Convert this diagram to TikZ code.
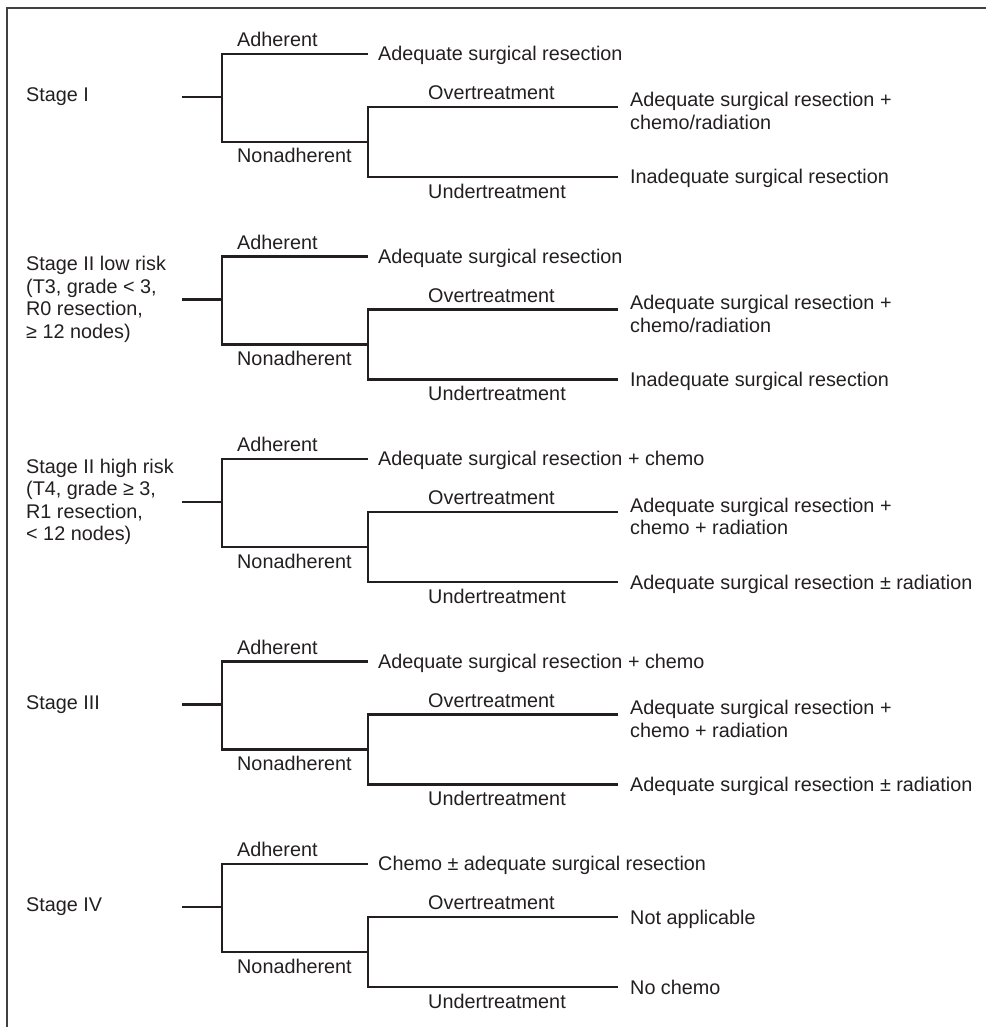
\documentclass[tikz,border=0pt]{standalone}
\usepackage{fontspec}
\setmainfont{Liberation Sans}
\usepackage{tikz}
\definecolor{ink}{HTML}{231F20}

\begin{document}
\begin{tikzpicture}[x=1pt,y=-1pt,
    every node/.style={inner sep=0pt,text=ink,font=\fontsize{19.8}{22.5}\selectfont},
    branch/.style={line width=2.6pt,draw=ink},
    frame/.style={line width=2pt,draw=black!75},
    stage/.style={anchor=west,align=left},
    tag/.style={anchor=base west},
    result/.style={anchor=base west,align=left}]
    \useasboundingbox (0,0) rectangle (985,1027);

    % Frame
    \draw[frame] (990,8) -- (7,8) -- (7,1032);

    % Stage I
    \node[stage] (st1) at (26,97) {Stage I};
    \coordinate (s1) at (182,97);
    \coordinate (f1) at (222,97);
    \coordinate (a1) at (368,54);
    \coordinate (n1) at (368,142);
    \coordinate (o1) at (618,107);
    \coordinate (u1) at (618,177);
    \draw[branch] (s1) -- (f1);
    \draw[branch] (a1) -| (f1) |- (n1);
    \draw[branch] (o1) -| (n1) |- (u1);
    \node[tag] (ad1) at (237,46.5) {Adherent};
    \node[tag] (na1) at (237,163) {Nonadherent};
    \node[tag] (ov1) at (428,99.5) {Overtreatment};
    \node[tag] (un1) at (428,198) {Undertreatment};
    \node[tag] (ra1) at (378,60.5) {Adequate surgical resection};
    \node[result] (ro1) at (630,129.5) {Adequate surgical resection +\\chemo/radiation};
    \node[tag] (ru1) at (630,184) {Inadequate surgical resection};

    % Stage II low risk
    \begin{scope}[shift={(0,202.5)}]
    \node[stage] (st2) at (26,97) {Stage II low risk\\(T3, grade < 3,\\R0 resection,\\≥ 12 nodes)};
    \coordinate (s2) at (182,97);
    \coordinate (f2) at (222,97);
    \coordinate (a2) at (368,54);
    \coordinate (n2) at (368,142);
    \coordinate (o2) at (618,107);
    \coordinate (u2) at (618,177);
    \draw[branch] (s2) -- (f2);
    \draw[branch] (a2) -| (f2) |- (n2);
    \draw[branch] (o2) -| (n2) |- (u2);
    \node[tag] (ad2) at (237,46.5) {Adherent};
    \node[tag] (na2) at (237,163) {Nonadherent};
    \node[tag] (ov2) at (428,99.5) {Overtreatment};
    \node[tag] (un2) at (428,198) {Undertreatment};
    \node[tag] (ra2) at (378,60.5) {Adequate surgical resection};
    \node[result] (ro2) at (630,129.5) {Adequate surgical resection +\\chemo/radiation};
    \node[tag] (ru2) at (630,184) {Inadequate surgical resection};
    \end{scope}

    % Stage II high risk
    \begin{scope}[shift={(0,405)}]
    \node[stage] (st3) at (26,97) {Stage II high risk\\(T4, grade ≥ 3,\\R1 resection,\\< 12 nodes)};
    \coordinate (s3) at (182,97);
    \coordinate (f3) at (222,97);
    \coordinate (a3) at (368,54);
    \coordinate (n3) at (368,142);
    \coordinate (o3) at (618,107);
    \coordinate (u3) at (618,177);
    \draw[branch] (s3) -- (f3);
    \draw[branch] (a3) -| (f3) |- (n3);
    \draw[branch] (o3) -| (n3) |- (u3);
    \node[tag] (ad3) at (237,46.5) {Adherent};
    \node[tag] (na3) at (237,163) {Nonadherent};
    \node[tag] (ov3) at (428,99.5) {Overtreatment};
    \node[tag] (un3) at (428,198) {Undertreatment};
    \node[tag] (ra3) at (378,60.5) {Adequate surgical resection + chemo};
    \node[result] (ro3) at (630,129.5) {Adequate surgical resection +\\chemo + radiation};
    \node[tag] (ru3) at (630,184) {Adequate surgical resection ± radiation};
    \end{scope}

    % Stage III
    \begin{scope}[shift={(0,607.5)}]
    \node[stage] (st4) at (26,97) {Stage III};
    \coordinate (s4) at (182,97);
    \coordinate (f4) at (222,97);
    \coordinate (a4) at (368,54);
    \coordinate (n4) at (368,142);
    \coordinate (o4) at (618,107);
    \coordinate (u4) at (618,177);
    \draw[branch] (s4) -- (f4);
    \draw[branch] (a4) -| (f4) |- (n4);
    \draw[branch] (o4) -| (n4) |- (u4);
    \node[tag] (ad4) at (237,46.5) {Adherent};
    \node[tag] (na4) at (237,163) {Nonadherent};
    \node[tag] (ov4) at (428,99.5) {Overtreatment};
    \node[tag] (un4) at (428,198) {Undertreatment};
    \node[tag] (ra4) at (378,60.5) {Adequate surgical resection + chemo};
    \node[result] (ro4) at (630,129.5) {Adequate surgical resection +\\chemo + radiation};
    \node[tag] (ru4) at (630,184) {Adequate surgical resection ± radiation};
    \end{scope}

    % Stage IV
    \begin{scope}[shift={(0,810)}]
    \node[stage] (st5) at (26,97) {Stage IV};
    \coordinate (s5) at (182,97);
    \coordinate (f5) at (222,97);
    \coordinate (a5) at (368,54);
    \coordinate (n5) at (368,142);
    \coordinate (o5) at (618,107);
    \coordinate (u5) at (618,177);
    \draw[branch] (s5) -- (f5);
    \draw[branch] (a5) -| (f5) |- (n5);
    \draw[branch] (o5) -| (n5) |- (u5);
    \node[tag] (ad5) at (237,46.5) {Adherent};
    \node[tag] (na5) at (237,163) {Nonadherent};
    \node[tag] (ov5) at (428,99.5) {Overtreatment};
    \node[tag] (un5) at (428,198) {Undertreatment};
    \node[tag] (ra5) at (378,60.5) {Chemo ± adequate surgical resection};
    \node[tag] (ro5) at (630,114) {Not applicable};
    \node[tag] (ru5) at (630,184) {No chemo};
    \end{scope}
\end{tikzpicture}
\end{document}
